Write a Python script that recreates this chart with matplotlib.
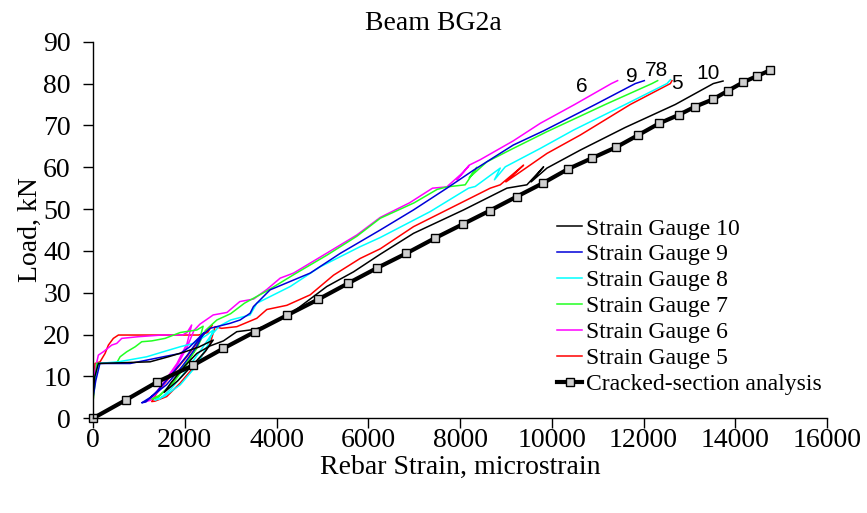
import matplotlib
matplotlib.use("Agg")
import matplotlib.pyplot as plt

plt.rcParams['font.family'] = ['Liberation Serif', 'DejaVu Serif']

# ---------------- data (strain in microstrain, load in kN) ----------------
g10_strain = [0, 40, 116, 700, 1243, 1643, 2007, 2300, 2620, 2450, 2150, 1850, 1550,
              1700, 2000, 2262, 2552, 2843, 3134, 3500, 3715, 4079, 4300, 4515, 5097,
              5678, 6260, 6986, 8077, 9022, 9458, 9822, 9550, 9895, 10622, 11600,
              12693, 13522, 13733]
g10_load = [6, 10, 13.1, 13.3, 13.5, 14.7, 15.9, 17.0, 18.7, 16.0, 12.5, 9.0, 6.2,
            8.5, 12.5, 15.5, 17.3, 18.5, 20.7, 21.2, 21.9, 23.9, 25.0, 26.7, 31.5,
            35.0, 39.2, 44.2, 49.8, 55.0, 55.8, 60.1, 56.5, 59.8, 64.1, 69.5,
            75.0, 80.0, 80.6]

g9_strain = [0, 60, 150, 810, 1170, 1530, 1900, 2100, 2330, 2420, 2250, 1950, 1600,
             1250, 1062, 1150, 1400, 1750, 2050, 2350, 2550, 2988, 3206, 3424, 3497,
             3860, 4733, 5387, 6260, 6986, 7714, 8295, 9160, 9822, 10949, 11821, 12017]
g9_load = [5, 9, 13.1, 13.1, 13.9, 14.7, 15.5, 17.0, 19.5, 20.5, 17.0, 12.5, 8.0,
           5.0, 3.7, 3.9, 6.5, 11.0, 15.0, 19.5, 21.5, 22.7, 23.5, 25.1, 26.7,
           30.7, 34.7, 39.4, 45.0, 49.8, 55.0, 59.3, 65.3, 68.7, 75.0, 80.0, 80.7]

g8_strain = [0, 50, 116, 553, 810, 1170, 1530, 1900, 2190, 2480, 2620, 2500, 2250,
             1900, 1550, 1350, 1450, 1700, 2000, 2300, 2550, 2750, 3000, 3424, 3570,
             4300, 4950, 5820, 6260, 7350, 8186, 8331, 8877, 8750, 8986, 9750, 10477,
             11603, 12512, 12585]
g8_load = [6, 10, 13.1, 13.5, 14.0, 14.7, 15.9, 17.1, 17.9, 19.9, 21.1, 17.5, 12.5,
           8.0, 5.2, 4.4, 4.6, 7.0, 11.0, 15.5, 19.5, 22.0, 23.5, 24.7, 27.5,
           31.5, 36.2, 41.0, 43.2, 49.4, 55.0, 55.4, 59.8, 57.0, 60.1, 64.5, 68.9,
           75.0, 80.0, 80.9]

g7_strain = [0, 40, 80, 520, 590, 735, 920, 1062, 1280, 1570, 1900, 2260, 2400, 2300,
             2050, 1750, 1450, 1280, 1400, 1650, 1950, 2250, 2450, 2700, 3000, 3300,
             3800, 4400, 5100, 5750, 6260, 7000, 7500, 7714, 8113, 8368, 8200, 8586,
             9160, 9895, 11167, 12185, 12308]
g7_load = [4, 8, 13.1, 13.3, 14.7, 15.9, 17.1, 18.3, 18.5, 19.1, 20.5, 21.1, 22.0, 18.0,
           13.0, 8.5, 5.5, 4.6, 4.8, 7.5, 12.0, 16.5, 21.0, 23.5, 25.0, 27.5,
           30.5, 34.5, 39.0, 43.5, 47.8, 51.5, 54.7, 55.3, 55.8, 60.0, 57.5, 61.3,
           64.5, 68.5, 75.0, 80.0, 80.7]

g6_strain = [0, 44, 116, 225, 408, 517, 626, 989, 1500, 1950, 2050, 2150, 2050, 1830,
             1530, 1300, 1150, 1250, 1500, 1800, 2050, 2200, 2330, 2620, 2920, 3200,
             3500, 3790, 4080, 4370, 5100, 5750, 6260, 6900, 7400, 7710, 8080, 8190,
             7930, 8200, 8440, 9160, 9750, 10500, 11300, 11435]
g6_load = [6, 11.5, 15.1, 15.9, 17.5, 17.9, 19.1, 19.5, 19.9, 19.9, 20.5, 22.3, 17.9, 13.1,
           8.4, 5.2, 4.0, 4.3, 7.5, 12.0, 17.0, 21.0, 22.5, 24.7, 25.3, 27.9,
           28.5, 30.8, 33.5, 34.7, 39.5, 43.8, 48.0, 51.5, 55.0, 55.3, 58.9, 60.3,
           57.0, 60.5, 61.8, 66.3, 70.5, 75.0, 80.0, 80.7]

g5_strain = [0, 20, 44, 153, 262, 335, 443, 553, 2300, 2500, 2600, 2370, 2043, 1679,
             1389, 1280, 1350, 1606, 1898, 2262, 2552, 2661, 2800, 3134, 3570, 3788,
             4224, 4733, 5242, 5823, 6260, 6986, 8659, 8877, 9385, 9000, 9895, 10622,
             11712, 12585, 12620]
g5_load = [3.5, 8, 13.1, 13.5, 15.5, 17.5, 19.1, 19.9, 19.9, 20.5, 22.3, 19.5, 14.7, 9.9,
           6.0, 4.0, 4.1, 5.2, 8.4, 13.1, 17.9, 21.9, 21.5, 21.9, 23.9, 26.0,
           27.0, 29.5, 34.2, 38.2, 40.5, 45.8, 55.0, 55.8, 60.5, 56.5, 63.3, 67.7,
           75.0, 80.0, 80.7]

cs_strain = [0, 720, 1402, 2188, 2842, 3533, 4225, 4907, 5568, 6188, 6827, 7444, 8063,
             8644, 9241, 9808, 10360, 10883, 11407, 11887, 12345, 12766, 13130, 13508,
             13844, 14171, 14476, 14766]
cs_load = [0, 4.4, 8.7, 12.7, 16.7, 20.7, 24.6, 28.4, 32.3, 35.9, 39.4, 43.0, 46.4,
           49.6, 53.0, 56.2, 59.6, 62.2, 64.8, 67.7, 70.5, 72.5, 74.5, 76.2,
           78.3, 80.3, 81.8, 83.2]

series_names = ["Strain Gauge 10", "Strain Gauge 9", "Strain Gauge 8",
                "Strain Gauge 7", "Strain Gauge 6", "Strain Gauge 5"]
series_colors = ["#000000", "#0000D8", "#00FFFF", "#22FF22", "#FF00FF", "#FF0000"]
series_data = [(g10_strain, g10_load), (g9_strain, g9_load), (g8_strain, g8_load),
               (g7_strain, g7_load), (g6_strain, g6_load), (g5_strain, g5_load)]

end_labels = ["6", "9", "78", "5", "10"]
end_label_x = [10665, 11734, 12279, 12737, 13413]
end_label_y = [79.4, 81.6, 83.2, 79.9, 82.5]

xticks = list(range(0, 16001, 2000))
yticks = list(range(0, 91, 10))

# ---------------- figure ----------------
fig = plt.figure(figsize=(8.67, 5.13), dpi=100)
ax = fig.add_axes([0.1073, 0.1846, 0.8466, 0.7341])

draw_order = [5, 4, 3, 2, 1, 0]
handles = {}
for i in draw_order:
    s, l = series_data[i]
    h, = ax.plot(s, l, color=series_colors[i], lw=1.1, label=series_names[i])
    handles[i] = h

hcs, = ax.plot(cs_strain, cs_load, color='black', lw=3, marker='s', ms=5.5,
               mfc='#d0d0d0', mec='black', mew=1.0, clip_on=False,
               label="Cracked-section analysis")

for t, x, y in zip(end_labels, end_label_x, end_label_y):
    ax.text(x, y, t, family=['Liberation Sans', 'DejaVu Sans'], fontsize=15,
            ha='center', va='center')

ax.set_xlim(0, 16000)
ax.set_ylim(0, 90)
ax.set_xticks(xticks)
ax.set_yticks(yticks)
ax.tick_params(axis='both', direction='out', length=7, width=1, labelsize=20)
ax.tick_params(axis='x', pad=0)
ax.tick_params(axis='y', pad=9)
for sp in ['top', 'right']:
    ax.spines[sp].set_visible(False)
for sp in ['left', 'bottom']:
    ax.spines[sp].set_linewidth(1.0)

ax.set_xlabel("Rebar Strain, microstrain", fontsize=20, labelpad=1)
ax.set_ylabel("Load, kN", fontsize=20, labelpad=0.5)
fig.text(0.5, 1 - 24 / 513, "Beam BG2a", fontsize=20, ha='center', va='center')

leg_handles = [handles[i] for i in range(6)] + [hcs]
ax.legend(handles=leg_handles, loc='upper left', bbox_to_anchor=(0.629, 0.598),
          bbox_transform=fig.transFigure, frameon=False, fontsize=17,
          handlelength=1.05, handletextpad=0.17, labelspacing=0.185,
          borderpad=0.0)

fig.savefig("out.png", dpi=100)
